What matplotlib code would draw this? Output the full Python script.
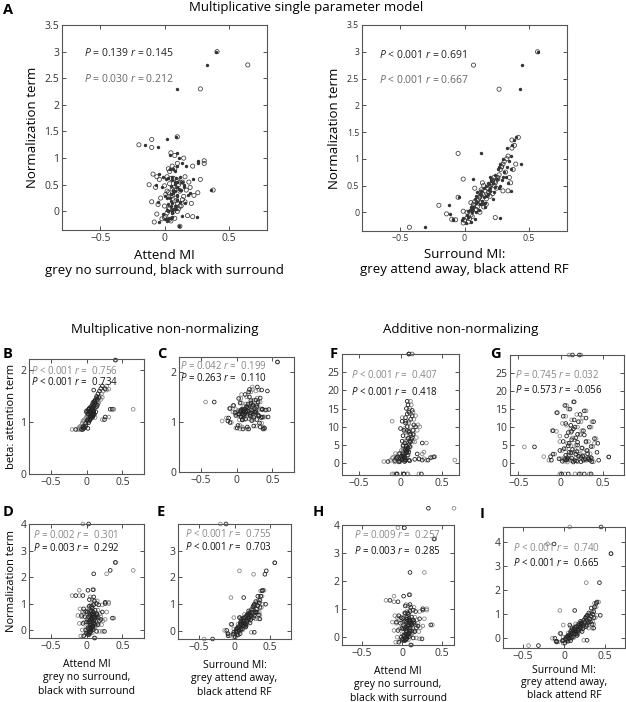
import numpy as np
import matplotlib
matplotlib.use("Agg")
from matplotlib import pyplot as plt
from matplotlib.ticker import FuncFormatter

plt.rcParams['font.family'] = ['Open Sans', 'DejaVu Sans']
plt.rcParams['mathtext.fontset'] = 'custom'
plt.rcParams['mathtext.rm'] = 'Open Sans'
plt.rcParams['mathtext.it'] = 'Open Sans:italic'

# per neuron values (80 cells), read off the scatter clouds
# attention modulation index: grey = no surround, black = with surround
attend_mi_grey = [0.12, -0.05, 0.02, 0.08, -0.02, 0.15, 0.04, -0.08, 0.01, 0.06,
                  0.05, -0.06, 0.10, 0.03, 0.00, 0.13, -0.10, 0.07, 0.04, 0.18,
                  0.09, 0.00, 0.06, 0.21, -0.03, 0.11, 0.02, 0.14, 0.07, -0.07,
                  0.03, 0.16, 0.08, -0.12, 0.05, 0.10, 0.19, 0.01, 0.12, 0.06,
                  0.07, 0.23, -0.04, 0.12, 0.04, 0.09, 0.16, 0.00, 0.26, 0.10,
                  0.14, 0.05, 0.20, -0.09, 0.11, 0.08, 0.02, 0.17, 0.06, 0.28,
                  0.10, 0.04, 0.15, 0.22, -0.06, 0.08, 0.31, 0.12, -0.10, 0.03,
                  -0.10, 0.10, -0.20, 0.31, 0.38, 0.05, 0.41, 0.65, 0.28, 0.22]
attend_mi_black = [0.11, 0.03, 0.06, 0.04, 0.03, 0.10, 0.00, -0.04, 0.06, 0.02,
                   0.02, -0.01, 0.06, 0.08, 0.05, 0.09, -0.05, 0.03, 0.09, 0.14,
                   0.05, 0.05, 0.10, 0.16, 0.02, 0.07, 0.07, 0.10, 0.03, -0.02,
                   0.07, 0.12, 0.13, -0.07, 0.00, 0.06, 0.14, 0.05, 0.08, 0.11,
                   0.10, 0.18, 0.01, 0.08, 0.08, 0.04, 0.12, 0.05, 0.20, 0.06,
                   0.10, 0.09, 0.15, -0.04, 0.15, 0.04, 0.06, 0.12, 0.10, 0.22,
                   0.14, 0.08, 0.11, 0.17, -0.01, 0.04, 0.26, 0.08, -0.05, 0.07,
                   0.02, 0.09, -0.15, 0.26, 0.36, 0.10, 0.40, 0.33, 0.10, 0.25]
# surround modulation index: grey = attend away, black = attend RF
surround_mi_grey = [-0.43, -0.20, -0.14, -0.10, -0.07, -0.05, 0.00, -0.01, 0.02, -0.01,
                    0.03, 0.05, 0.02, 0.06, 0.04, 0.07, 0.05, -0.01, 0.09, 0.06,
                    0.08, 0.10, 0.12, 0.07, 0.11, 0.09, 0.13, 0.10, 0.12, 0.08,
                    0.14, 0.13, 0.16, 0.15, 0.12, 0.17, 0.14, 0.18, 0.15, 0.13,
                    0.18, 0.20, 0.22, 0.19, 0.21, 0.17, 0.23, 0.20, 0.22, 0.24,
                    0.24, 0.26, 0.25, 0.27, 0.23, 0.28, 0.26, 0.30, 0.29, 0.22,
                    0.30, 0.32, 0.33, 0.29, 0.35, 0.34, 0.31, 0.36, 0.37, 0.38,
                    0.37, 0.42, 0.39, 0.40, 0.34, -0.05, 0.57, 0.07, 0.27, 0.24]
surround_mi_black = [-0.31, -0.12, -0.11, -0.09, -0.09, -0.04, -0.02, 0.01, -0.01, 0.03,
                     0.05, 0.02, 0.06, 0.04, 0.08, 0.05, 0.09, 0.07, 0.06, 0.03,
                     0.10, 0.07, 0.09, 0.12, 0.08, 0.11, 0.10, 0.14, 0.09, 0.15,
                     0.12, 0.16, 0.13, 0.17, 0.15, 0.14, 0.18, 0.13, 0.16, 0.19,
                     0.20, 0.17, 0.21, 0.23, 0.19, 0.22, 0.20, 0.24, 0.18, 0.21,
                     0.22, 0.25, 0.27, 0.24, 0.28, 0.26, 0.30, 0.20, 0.27, 0.29,
                     0.28, 0.31, 0.30, 0.33, 0.32, 0.36, 0.35, 0.34, 0.33, 0.36,
                     0.39, 0.40, 0.37, 0.44, 0.36, 0.13, 0.57, 0.45, 0.43, 0.28]

# model parameters
norm_single = [-0.28, 0.13, -0.03, -0.13, -0.14, 0.28, -0.15, -0.20, -0.10, 0.02,
               -0.18, -0.05, 0.00, 0.05, -0.12, 0.10, 0.18, 0.62, 0.05, -0.08,
               0.20, 0.10, 0.30, 0.15, 0.25, 0.05, 0.38, 0.22, 0.00, 0.45,
               0.35, 0.18, 0.40, 0.50, 0.28, 0.15, 0.55, 0.32, 0.10, 0.42,
               0.45, 0.30, 0.60, 0.38, 0.52, 0.25, 0.65, 0.48, 0.35, 0.58,
               0.55, 0.62, 0.45, 0.70, 0.50, 0.80, 0.65, 0.40, 0.85, 0.60,
               0.90, 0.75, 1.00, 0.85, 0.65, 1.05, 0.95, 0.55, 1.20, 0.80,
               1.35, 1.40, 1.25, 0.90, 0.40, 1.10, 3.00, 2.75, 2.30, -0.10]
beta_mult = [1.40, 1.02, 1.08, 1.27, 0.99, 1.33, 1.19, 0.88, 1.13, 1.16,
             1.21, 0.93, 1.23, 1.16, 1.04, 1.38, 0.86, 1.25, 1.11, 1.47,
             1.22, 1.10, 1.15, 1.55, 1.05, 1.26, 1.14, 1.31, 1.24, 0.90,
             1.17, 1.36, 1.20, 0.86, 1.22, 1.30, 1.50, 1.06, 1.28, 1.15,
             1.18, 1.60, 1.03, 1.34, 1.12, 1.21, 1.43, 1.10, 1.65, 1.24,
             1.31, 1.20, 1.44, 0.92, 1.33, 1.19, 1.14, 1.38, 1.22, 1.70,
             1.30, 1.12, 1.40, 1.48, 0.98, 1.26, 1.64, 1.09, 0.90, 1.10,
             0.88, 1.24, 0.86, 1.10, 1.25, 1.20, 2.20, 1.25, 1.62, 1.05]
norm_mult = [-0.30, 4.00, 0.02, -0.10, -0.18, 0.25, -0.12, -0.22, -0.05, 0.08,
             -0.15, 0.00, 0.05, 0.10, -0.10, 0.15, 0.25, 0.50, 0.02, -0.05,
             0.25, 0.12, 0.35, 0.20, 0.30, 0.08, 0.45, 0.28, 0.05, 0.50,
             0.40, 0.22, 0.48, 0.55, 0.30, 0.20, 0.62, 0.38, 0.15, 0.50,
             0.50, 0.35, 0.68, 0.42, 0.60, 0.30, 0.75, 0.55, 0.40, 0.65,
             0.60, 0.70, 0.50, 0.80, 0.58, 0.90, 0.72, 0.45, 0.95, 0.68,
             1.00, 0.82, 1.10, 0.95, 0.70, 1.15, 1.05, 0.60, 1.30, 0.88,
             1.50, 1.52, 1.30, 1.00, 0.45, 1.25, 2.55, 2.25, 2.12, -0.05]
beta_add = [4.5, 1.8, 0.8, 9.0, 2.5, 14.0, 1.2, -3.0, 3.5, 6.0,
            1.0, 0.5, 11.0, 4.0, 1.5, 16.0, -3.0, 7.5, 2.2, 13.0,
            5.5, 0.9, 8.5, 10.5, 1.1, 15.0, 3.0, 30.0, 4.8, 0.3,
            2.8, 12.0, 6.5, 0.7, 9.5, 3.8, 7.0, 1.4, 17.0, 0.6,
            5.0, 10.0, 1.9, 13.5, 3.2, -3.0, 8.0, 0.4, 2.5, 11.5,
            30.0, 4.2, 9.0, 1.6, 7.8, 2.0, 12.5, 5.8, 0.8, 1.2,
            14.5, 3.5, 6.0, 1.0, 2.6, -3.0, 0.8, 10.0, 1.3, 4.6,
            11.5, 6.8, 0.4, 5.5, 1.5, 8.8, 1.7, 0.8, 3.0, -3.0]
norm_add = [-0.30, 3.90, 0.00, -0.12, -0.15, 0.20, -0.10, -0.20, -0.08, 0.05,
            -0.12, -0.02, 0.04, 0.08, -0.10, 0.12, 0.22, 0.55, 0.00, -0.05,
            0.22, 0.10, 0.32, 0.18, 0.28, 0.06, 0.40, 0.25, 0.03, 0.48,
            0.38, 0.20, 0.45, 0.52, 0.30, 0.18, 0.60, 0.35, 0.12, 0.46,
            0.48, 0.32, 0.65, 0.40, 0.56, 0.28, 0.70, 0.52, 0.38, 0.62,
            0.58, 0.66, 0.48, 0.75, 0.54, 0.85, 0.70, 0.42, 0.90, 0.64,
            0.95, 0.80, 1.05, 0.90, 0.68, 1.10, 1.00, 0.58, 1.25, 0.85,
            1.45, 1.50, 1.30, 0.95, 0.42, 1.15, 3.50, 4.60, 2.30, -0.08]

GREY = '#8a8a8a'
BLACK = '#252525'
W, H = 626, 702

attend_lbl = 'Attend MI\ngrey no surround,\nblack with surround'
surround_lbl = 'Surround MI:\ngrey attend away,\nblack attend RF'


def stat(p, r):
    return r'$\it{P}$' + f' {p} ' + r'$\it{r}$' + f' = {r}'


def box(l, r, t, b):
    return [l / W, 1 - b / H, (r - l) / W, (b - t) / H]


fmt = FuncFormatter(lambda v, pos: f'{v:g}'.replace('-', '\u2212'))

# (letter, box, x grey, x black, y, xlim, ylim, yticks, stat lines, text pos)
panels = [
    ('B', box(29, 144, 359, 474), attend_mi_grey, attend_mi_black, beta_mult, (-0.8, 0.8), (0, 2.22), [0, 1, 2],
     [stat('< 0.001', ' 0.756'), stat('< 0.001', ' 0.734')], (0.02, 0.9, 0.8)),
    ('C', box(179, 294, 357, 472), surround_mi_grey, surround_mi_black, beta_mult, (-0.8, 0.8), (0, 2.3), [0, 1, 2],
     [stat('= 0.042', ' 0.199'), stat('= 0.263', ' 0.110')], (0.01, 0.92, 0.82)),
    ('F', box(342, 459, 354, 475), attend_mi_grey, attend_mi_black, beta_add, (-0.7, 0.7), (-3.3, 30), [0, 5, 10, 15, 20, 25],
     [stat('< 0.001', ' 0.407'), stat('< 0.001', ' 0.418')], (0.08, 0.83, 0.69)),
    ('G', box(510, 624, 355, 475), surround_mi_grey, surround_mi_black, beta_add, (-0.6, 0.75), (-3.3, 30), [0, 5, 10, 15, 20, 25],
     [stat('= 0.745', '0.032'), stat('= 0.573', '-0.056')], (0.04, 0.83, 0.71)),
    ('D', box(29, 144, 524, 638), attend_mi_grey, attend_mi_black, norm_mult, (-0.8, 0.8), (-0.3, 4), [0, 1, 2, 3, 4],
     [stat('= 0.002', ' 0.301'), stat('= 0.003', ' 0.292')], (0.035, 0.9, 0.79)),
    ('E', box(178, 291, 524, 639), surround_mi_grey, surround_mi_black, norm_mult, (-0.8, 0.8), (-0.3, 4), [0, 1, 2, 3],
     [stat('< 0.001', ' 0.755'), stat('< 0.001', ' 0.703')], (0.06, 0.91, 0.80)),
    ('H', box(342, 454, 525, 645), attend_mi_grey, attend_mi_black, norm_add, (-0.75, 0.65), (-0.3, 4), [0, 1, 2, 3, 4],
     [stat('= 0.009', ' 0.257'), stat('= 0.003', ' 0.285')], (0.11, 0.92, 0.78)),
    ('I', box(503, 625, 527, 648), surround_mi_grey, surround_mi_black, norm_add, (-0.74, 0.74), (-0.4, 4.6), [0, 1, 2, 3, 4],
     [stat('< 0.001', ' 0.740'), stat('< 0.001', ' 0.665')], (0.08, 0.83, 0.70)),
]

fig = plt.figure(figsize=(W / 100, H / 100), dpi=100)


def style(ax, xlim, ylim, yticks, tsize):
    ax.set_xlim(*xlim)
    ax.set_ylim(*ylim)
    ax.set_xticks([-0.5, 0, 0.5])
    ax.set_yticks(yticks)
    ax.xaxis.set_major_formatter(fmt)
    ax.yaxis.set_major_formatter(fmt)
    ax.tick_params(direction='in', top=True, right=True, length=3, width=0.6,
                   labelsize=tsize, pad=2, colors='#333333')
    for s in ax.spines.values():
        s.set_color('#555555')
        s.set_linewidth(0.8)


# ---- panel A: single parameter model
for i, (xg, xb, lbl) in enumerate([(attend_mi_grey, attend_mi_black, 'Attend MI\ngrey no surround, black with surround'),
                                     (surround_mi_grey, surround_mi_black, 'Surround MI:\ngrey attend away, black attend RF')]):
    ax = fig.add_axes(box(62, 267, 25, 230) if i == 0 else box(362, 567, 25, 231))
    ax.scatter(xg, norm_single, s=9, facecolors='none', edgecolors='#3a3a3a', linewidths=0.55)
    ax.scatter(xb, norm_single, s=6, color='#333333', linewidths=0)
    style(ax, (-0.8, 0.8), (-0.35, 3.5), np.arange(0, 3.6, 0.5), 7.5 if i == 0 else 6.3)
    ax.set_ylabel('Normalization term', fontsize=9.5, labelpad=4)
    ax.set_xlabel(lbl, fontsize=9.5, labelpad=4, linespacing=1.2)
    if i == 0:
        lines = [stat('= 0.139', '0.145'), stat('= 0.030', '0.212')]
        tx, ty = 0.107, (0.863, 0.737)
    else:
        lines = [stat('< 0.001', '0.691'), stat('< 0.001', '0.667')]
        tx, ty = 0.083, (0.854, 0.732)
    ax.text(tx, ty[0], lines[0], transform=ax.transAxes, fontsize=7.5, color='#222222', va='center')
    ax.text(tx, ty[1], lines[1], transform=ax.transAxes, fontsize=7.5, color='#666666', va='center')

# ---- panels B-I
for letter, rect, xg, xb, y, xlim, ylim, yticks, lines, tpos in panels:
    ax = fig.add_axes(rect)
    ax.scatter(xg, y, s=7, facecolors='none', edgecolors=GREY, linewidths=0.6, clip_on=False)
    ax.scatter(xb, y, s=7, facecolors='none', edgecolors=BLACK, linewidths=0.6, clip_on=False)
    style(ax, xlim, ylim, yticks, 7.5)
    ax.text(tpos[0], tpos[1], lines[0], transform=ax.transAxes, fontsize=7, color='#888888', va='center')
    ax.text(tpos[0], tpos[2], lines[1], transform=ax.transAxes, fontsize=7, color='#111111', va='center')
    if letter == 'B':
        ax.set_ylabel('beta: attention term', fontsize=8, labelpad=2)
    if letter == 'D':
        ax.set_ylabel('Normalization term', fontsize=8, labelpad=2)
    if letter in 'DH':
        ax.set_xlabel(attend_lbl, fontsize=7.5, labelpad=5, linespacing=1.3)
    if letter == 'E':
        ax.set_xlabel(surround_lbl, fontsize=7.5, labelpad=5, linespacing=1.3)
    if letter == 'I':
        ax.set_xlabel(surround_lbl, fontsize=7.5, labelpad=2, linespacing=1.2)

# titles and panel letters
fig.text(306 / W, 1 - 8 / H, 'Multiplicative single parameter model', fontsize=9.5, ha='center', va='center')
fig.text(165 / W, 1 - 330 / H, 'Multiplicative non-normalizing', fontsize=9.5, ha='center', va='center')
fig.text(461 / W, 1 - 330 / H, 'Additive non-normalizing', fontsize=9.5, ha='center', va='center')
for letter, x, y in [('A', 3, 10), ('B', 3, 354), ('C', 157, 354), ('F', 330, 354), ('G', 490, 354),
                     ('D', 3, 512), ('E', 157, 512), ('H', 313, 512), ('I', 480, 514)]:
    fig.text(x / W, 1 - y / H, letter, fontsize=10.5, fontweight='bold', va='center', ha='left')

fig.savefig('out.png', dpi=100)
